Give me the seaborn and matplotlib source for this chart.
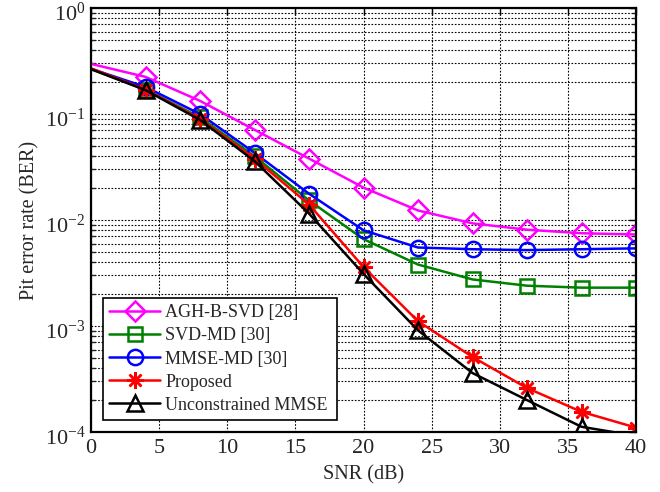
import numpy as np
import pandas as pd
import matplotlib
matplotlib.use("Agg")
import matplotlib.pyplot as plt
import matplotlib.transforms as mtransforms
import seaborn as sns
from matplotlib.ticker import LogLocator, NullFormatter, MultipleLocator

# SNR axis (dB)
snr = [0, 4, 8, 12, 16, 20, 24, 28, 32, 36, 40]

# Bit error rate of each scheme
ber_agh = [0.297, 0.224, 0.133, 0.071, 0.038, 0.0202, 0.0123, 0.0093, 0.0081, 0.0075, 0.0073]
ber_svd = [0.265, 0.170, 0.093, 0.040, 0.0153, 0.0066, 0.0038, 0.00275, 0.0024, 0.0023, 0.0023]
ber_mmse = [0.267, 0.180, 0.100, 0.043, 0.0177, 0.0080, 0.0055, 0.0053, 0.0052, 0.0053, 0.0054]
ber_prop = [0.270, 0.170, 0.090, 0.038, 0.0140, 0.0036, 0.00111, 0.00051, 0.00026, 0.000155, 0.000110]
ber_unc = [0.265, 0.168, 0.088, 0.036, 0.0115, 0.0031, 0.00091, 0.00036, 0.00020, 0.000112, 0.000092]

labels = ["AGH-B-SVD [28]", "SVD-MD [30]", "MMSE-MD [30]", "Proposed", "Unconstrained MMSE"]
colors = ["#ff00ff", "#008000", "#0000ff", "#ff0000", "#000000"]
markers = ["D", "s", "o", (8, 2, 0), "^"]
msizes = [10, 9.5, 11, 12, 12]

sns.set_theme(style="white")
plt.rcParams["font.family"] = ["Liberation Serif", "DejaVu Serif"]
plt.rcParams["mathtext.fontset"] = "stix"
plt.rcParams["xtick.direction"] = "in"
plt.rcParams["ytick.direction"] = "in"

YMIN, YMAX = 1e-4, 1.0

fig = plt.figure(figsize=(6.6, 4.92), dpi=100)
ax = fig.add_axes([91 / 660, 1 - 432 / 492, 545 / 660, 424 / 492])

series = [ber_agh, ber_svd, ber_mmse, ber_prop, ber_unc]
for vals, lab, col, mk, ms in zip(series, labels, colors, markers, msizes):
    df = pd.DataFrame({"snr": snr, "ber": vals})
    # markers start at 4 dB and are only shown inside the plotted range
    shown = [i for i, v in enumerate(vals) if i > 0 and v >= YMIN]
    sns.lineplot(data=df, x="snr", y="ber", ax=ax, color=col, lw=1.8,
                 marker=mk, markersize=ms, markerfacecolor="none",
                 markeredgecolor=col, markeredgewidth=1.8,
                 markevery=shown, label=lab, legend=False)

ax.set_yscale("log")
ax.set_xlim(0, 40)
ax.set_ylim(YMIN, YMAX)
ax.xaxis.set_major_locator(MultipleLocator(5))
ax.yaxis.set_major_locator(LogLocator(base=10, numticks=10))
ax.yaxis.set_minor_locator(LogLocator(base=10, subs=np.arange(2, 10), numticks=20))
ax.yaxis.set_minor_formatter(NullFormatter())

ax.grid(True, which="major", axis="both", color="black", linestyle=(0, (1.5, 1.5)), lw=0.8)
ax.grid(True, which="minor", axis="y", color="black", linestyle=(0, (1.5, 1.5)), lw=0.8)

ax.tick_params(axis="both", which="major", labelsize=16, length=5, width=1,
               top=True, right=True, color="black")
ax.tick_params(axis="x", which="major", pad=5)
ax.tick_params(axis="y", which="major", pad=4)
ax.tick_params(axis="y", which="minor", length=3, width=1, left=True, right=True)
for sp in ax.spines.values():
    sp.set_color("black")
    sp.set_linewidth(1.6)

# centre the whole power-of-ten label (base and exponent) on its tick
shift = mtransforms.ScaledTranslation(0, -4 / 100, fig.dpi_scale_trans)
for lbl in ax.get_yticklabels():
    lbl.set_transform(lbl.get_transform() + shift)

ax.set_xlabel("SNR (dB)", fontsize=14.5, labelpad=5)
ax.set_ylabel("Pit error rate (BER)", fontsize=14.5, labelpad=4)

leg = ax.legend(loc="lower left", bbox_to_anchor=(0.022, 0.028, 0.43, 0.314),
                mode="expand", fontsize=13, frameon=True, fancybox=False,
                borderaxespad=0, handlelength=2.8, labelspacing=0.34,
                borderpad=0.35, handletextpad=0.3)
leg.get_frame().set_edgecolor("black")
leg.get_frame().set_linewidth(1.2)
leg.get_frame().set_alpha(1)

fig.savefig("out.png", dpi=100)
